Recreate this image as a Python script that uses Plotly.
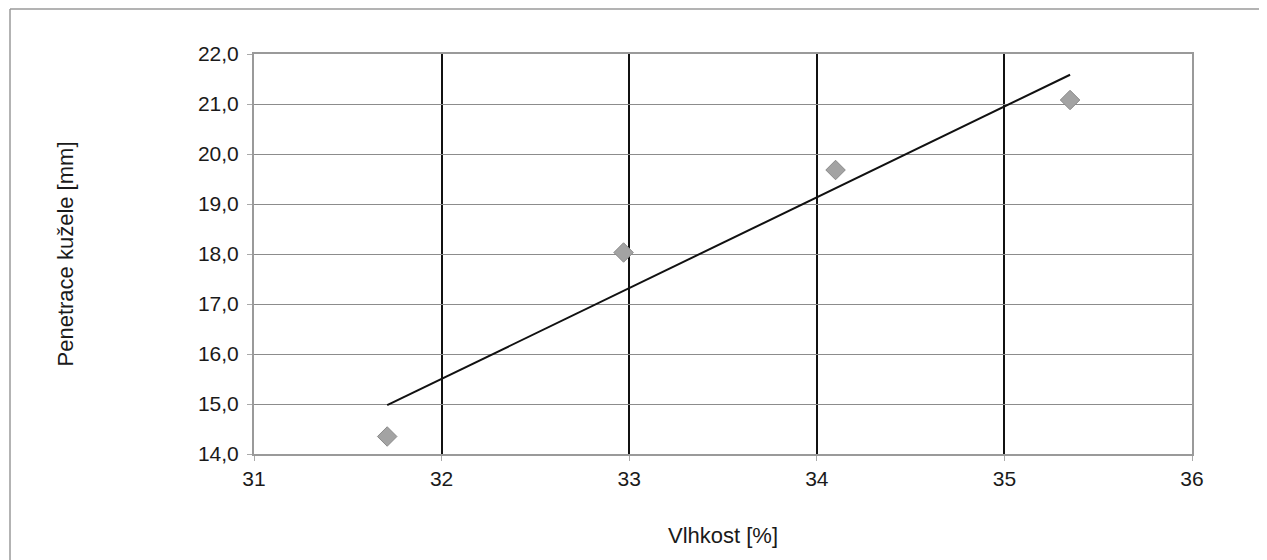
import numpy as np
import plotly.graph_objects as go

# Data
vlhkost = [31.71, 32.97, 34.10, 35.35]
penetrace = [14.35, 18.03, 19.68, 21.08]
x_ticks = [31, 32, 33, 34, 35, 36]
y_ticks = [14, 15, 16, 17, 18, 19, 20, 21, 22]

# Linear trendline (least squares) over data range
slope, intercept = np.polyfit(vlhkost, penetrace, 1)
trend_x = [min(vlhkost), max(vlhkost)]
trend_y = [slope * v + intercept for v in trend_x]

# page body adds an 8px offset
OFF = 8
W, H = 1267, 560
L, R, T, B = 254 - OFF, 75 + OFF, 54 - OFF, 106 + OFF

fig = go.Figure()
fig.add_trace(go.Scatter(x=trend_x, y=trend_y, mode="lines",
                         line=dict(color="#111111", width=2), showlegend=False,
                         hoverinfo="skip"))
fig.add_trace(go.Scatter(x=vlhkost, y=penetrace, mode="markers",
                         marker=dict(symbol="diamond", size=15, color="#a3a3a3",
                                     line=dict(color="#8a8a8a", width=1)),
                         showlegend=False))

pw = W - L - R
ph = H - T - B


def px_x(x):
    return (x - OFF - L) / pw


def px_y(y):
    return 1 - (y - OFF - T) / ph


# outer chart frame: top and left edges only
fig.add_shape(type="line", xref="paper", yref="paper",
              x0=px_x(10), x1=px_x(1290), y0=px_y(9), y1=px_y(9),
              line=dict(color="#9a9a9a", width=1.5), layer="below")
fig.add_shape(type="line", xref="paper", yref="paper",
              x0=px_x(10), x1=px_x(10), y0=px_y(9), y1=px_y(600),
              line=dict(color="#9a9a9a", width=1.5), layer="below")

fig.update_layout(
    width=W, height=H,
    margin=dict(l=L, r=R, t=T, b=B),
    paper_bgcolor="white", plot_bgcolor="white",
    separators=", ",
    font=dict(family="Liberation Sans, Arial, sans-serif", color="#1a1a1a", size=21),
    xaxis=dict(range=[31, 36], tickvals=x_ticks, showgrid=True,
               gridcolor="#111111", gridwidth=2, zeroline=False,
               showline=True, linecolor="#9a9a9a", linewidth=2, mirror=True,
               ticks="outside", ticklen=5, tickcolor="#aaaaaa",
               tickfont=dict(size=21),
               title=dict(text="Vlhkost [%]", font=dict(size=22), standoff=38)),
    yaxis=dict(range=[14, 22], tickvals=y_ticks, tickformat=".1f", showgrid=True,
               gridcolor="#8c8c8c", gridwidth=1, zeroline=False,
               showline=True, linecolor="#9a9a9a", linewidth=2, mirror=True,
               ticks="outside", ticklen=5, tickcolor="#aaaaaa",
               tickfont=dict(size=21), ticklabelstandoff=4,
               title=dict(text="Penetrace kužele [mm]", font=dict(size=22), standoff=118)),
)

fig.write_html("out.html")
